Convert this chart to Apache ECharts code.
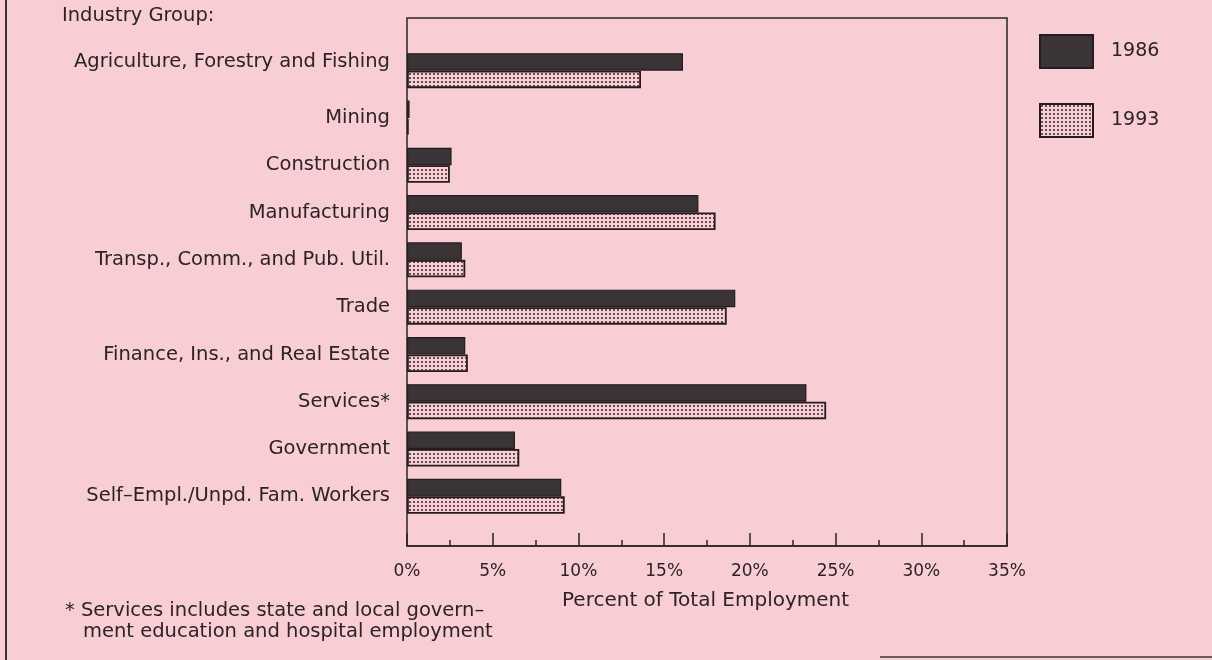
<!DOCTYPE html>
<html>
<head>
<meta charset="utf-8">
<script src="https://cdn.jsdelivr.net/npm/echarts@6/dist/echarts.min.js"></script>
<style>
html,body{margin:0;padding:0;background:#f8cdd3;}
#c{width:1212px;height:660px;}
</style>
</head>
<body>
<div id="c"></div>
<script>
const categories = [
  'Agriculture, Forestry and Fishing',
  'Mining',
  'Construction',
  'Manufacturing',
  'Transp., Comm., and Pub. Util.',
  'Trade',
  'Finance, Ins., and Real Estate',
  'Services*',
  'Government',
  'Self\u2013Empl./Unpd. Fam. Workers'
];
const values1986 = [16.1, 0.15, 2.6, 17.0, 3.2, 19.15, 3.4, 23.3, 6.3, 9.0];
const values1993 = [13.65, 0.1, 2.5, 18.0, 3.4, 18.65, 3.55, 24.45, 6.55, 9.2];
const seriesNames = ['1986', '1993'];
const xTicks = [0, 5, 10, 15, 20, 25, 30, 35];

const PINK = '#f8cdd3';
const INK = '#2b2326';
const DARK = '#3a3436';
const FONT = 'DejaVu Sans';
const FS = 19.5;

function dotPattern() {
  const cv = document.createElement('canvas');
  cv.width = 4; cv.height = 4;
  const g = cv.getContext('2d');
  g.fillStyle = PINK;
  g.fillRect(0, 0, 4, 4);
  g.fillStyle = '#201a1c';
  g.beginPath();
  g.arc(2, 2, 0.95, 0, Math.PI * 2);
  g.fill();
  return cv;
}
const dots = { image: dotPattern(), repeat: 'repeat' };

const chart = echarts.init(document.getElementById('c'), null, { renderer: 'canvas' });
chart.setOption({
  backgroundColor: PINK,
  animation: false,
  textStyle: { fontFamily: FONT, color: INK },
  legend: {
    orient: 'vertical',
    left: 1034,
    top: 29,
    itemWidth: 53,
    itemHeight: 33,
    itemGap: 34,
    data: seriesNames,
    icon: 'rect',
    textStyle: { fontFamily: FONT, fontSize: 19, color: INK, padding: [0, 0, 0, 13] }
  },
  grid: [
    { left: 407, right: 205, top: 47, bottom: 140, containLabel: false },
    { left: 407, right: 205, top: 18, bottom: 114, show: true, borderColor: INK, borderWidth: 1.5, backgroundColor: 'transparent' }
  ],
  xAxis: [
    { gridIndex: 0, type: 'value', min: 0, max: 35, show: false },
    {
      gridIndex: 1, type: 'value', min: 0, max: 35, interval: 5,
      axisLine: { show: true, lineStyle: { color: INK, width: 1.5 } },
      axisTick: { show: true, inside: true, length: 13, lineStyle: { color: INK, width: 1.5 } },
      minorTick: { show: true, splitNumber: 2, length: 6, lineStyle: { color: INK, width: 1.5 } },
      splitLine: { show: false },
      axisLabel: { margin: 17, fontFamily: FONT, fontSize: 17, color: INK, formatter: v => xTicks.includes(v) ? v + '%' : '' }
    }
  ],
  yAxis: [
    {
      gridIndex: 0, type: 'category', data: categories, inverse: true,
      axisLine: { show: false }, axisTick: { show: false },
      axisLabel: {
        margin: 17, fontFamily: FONT, fontSize: FS, color: INK,
        formatter: (v, i) => i === 0 ? '{a|' + v + '}' : v,
        rich: { a: { fontFamily: FONT, fontSize: FS, color: INK, padding: [0, 0, 18, 0] } }
      }
    },
    { gridIndex: 1, type: 'value', show: false, min: 0, max: 1 }
  ],
  series: [
    {
      name: seriesNames[0], type: 'bar', xAxisIndex: 0, yAxisIndex: 0,
      data: values1986, barWidth: 17.5, barGap: '0%',
      itemStyle: { color: DARK, borderColor: '#241c1e', borderWidth: 1.2 }
    },
    {
      name: seriesNames[1], type: 'bar', xAxisIndex: 0, yAxisIndex: 0,
      data: values1993, barWidth: 17.5, barGap: '0%',
      itemStyle: { color: dots, borderColor: '#241c1e', borderWidth: 1.8 }
    }
  ],
  graphic: [
    { type: 'text', left: 62, top: 6, style: { text: 'Industry Group:', font: FS + 'px "' + FONT + '"', fill: INK } },
    { type: 'text', left: 65, top: 601, style: { text: '* Services includes state and local govern\u2013', font: FS + 'px "' + FONT + '"', fill: INK } },
    { type: 'text', left: 83, top: 622, style: { text: 'ment education and hospital employment', font: FS + 'px "' + FONT + '"', fill: INK } },
    { type: 'text', left: 562, top: 591, style: { text: 'Percent of Total Employment', font: '20px "' + FONT + '"', fill: INK } },
    { type: 'rect', shape: { x: 5, y: 0, width: 2, height: 660 }, style: { fill: '#3a3032' } },
    { type: 'rect', shape: { x: 880, y: 656, width: 332, height: 2 }, style: { fill: '#6a5a5e' } }
  ]
});
</script>
</body>
</html>
